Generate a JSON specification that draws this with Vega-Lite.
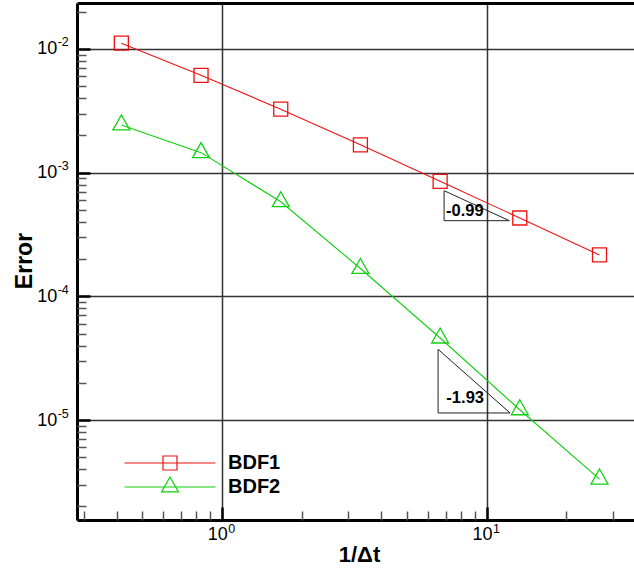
{
  "$schema": "https://vega.github.io/schema/vega-lite/v6.json",
  "width": 557,
  "height": 517,
  "autosize": {"type": "none"},
  "padding": {"left": 77, "top": 3, "right": 0, "bottom": 49},
  "background": "white",
  "config": {
    "view": {"stroke": null},
    "font": "Liberation Sans",
    "axis": {"labelColor": "#000", "titleColor": "#000", "labelFont": "Liberation Sans", "titleFont": "Liberation Sans", "labelFlush": false, "labelOverlap": false},
    "legend": {
      "title": null, "orient": "none", "legendX": 83, "legendY": 450, "padding": 0,
      "symbolSize": 196, "symbolStrokeWidth": 1.2, "symbolOpacity": 1,
      "labelFont": "Liberation Sans", "labelFontSize": 20, "labelFontWeight": "bold", "labelColor": "#000",
      "labelOffset": 48, "rowPadding": 1
    }
  },
  "datasets": {
    "errors": [
      {"invDt": 0.4167, "error": 0.01115, "scheme": "BDF1"},
      {"invDt": 0.8333, "error": 0.00612, "scheme": "BDF1"},
      {"invDt": 1.667, "error": 0.00326, "scheme": "BDF1"},
      {"invDt": 3.333, "error": 0.00168, "scheme": "BDF1"},
      {"invDt": 6.667, "error": 0.000851, "scheme": "BDF1"},
      {"invDt": 13.33, "error": 0.00043, "scheme": "BDF1"},
      {"invDt": 26.67, "error": 0.000216, "scheme": "BDF1"},
      {"invDt": 0.4167, "error": 0.00243, "scheme": "BDF2"},
      {"invDt": 0.8333, "error": 0.001452, "scheme": "BDF2"},
      {"invDt": 1.667, "error": 0.000582, "scheme": "BDF2"},
      {"invDt": 3.333, "error": 0.000168, "scheme": "BDF2"},
      {"invDt": 6.667, "error": 0.000046, "scheme": "BDF2"},
      {"invDt": 13.33, "error": 0.0000121, "scheme": "BDF2"},
      {"invDt": 26.67, "error": 0.00000333, "scheme": "BDF2"}
    ],
    "slopeTriangles": [
      {"tri": "BDF1", "ord": 0, "invDt": 6.9, "error": 0.000715},
      {"tri": "BDF1", "ord": 1, "invDt": 6.9, "error": 0.000409},
      {"tri": "BDF1", "ord": 2, "invDt": 12.17, "error": 0.000409},
      {"tri": "BDF1", "ord": 3, "invDt": 6.9, "error": 0.000715},
      {"tri": "BDF2", "ord": 0, "invDt": 6.55, "error": 0.0000373},
      {"tri": "BDF2", "ord": 1, "invDt": 6.55, "error": 0.0000114},
      {"tri": "BDF2", "ord": 2, "invDt": 12.25, "error": 0.0000114},
      {"tri": "BDF2", "ord": 3, "invDt": 6.55, "error": 0.0000373}
    ],
    "slopeLabels": [
      {"invDt": 8.27, "error": 0.000492, "label": "-0.99"},
      {"invDt": 8.29, "error": 0.00001511, "label": "-1.93"}
    ]
  },
  "layer": [
    {
      "data": {"name": "errors"},
      "mark": {"type": "line", "strokeWidth": 1.1},
      "encoding": {
        "x": {
          "field": "invDt", "type": "quantitative",
          "scale": {"type": "log", "domain": [0.2833, 36.0], "nice": false, "zero": false},
          "axis": {
            "orient": "bottom", "values": [1, 10], "title": "1/Δt",
            "grid": true, "gridColor": "#333", "gridWidth": 1.5,
            "domain": true, "domainColor": "#000", "domainWidth": 3,
            "ticks": true, "tickSize": -13, "tickWidth": 2.5, "tickColor": "#000",
            "labels": true, "labelExpr": "'10'", "labelFontSize": 18,
            "labelBaseline": "top", "labelAlign": "center", "labelPadding": 18.4, "labelOffset": -4.7,
            "titleFontSize": 22, "titleFontWeight": "bold", "titleX": 282, "titleY": 34,
            "titleAlign": "center", "titleBaseline": "middle", "titleAngle": 0
          }
        },
        "y": {
          "field": "error", "type": "quantitative",
          "scale": {"type": "log", "domain": [0.000001554, 0.02354], "nice": false, "zero": false},
          "axis": {
            "orient": "left", "values": [0.00001, 0.0001, 0.001, 0.01], "title": "Error",
            "grid": true, "gridColor": "#333", "gridWidth": 1.5,
            "domain": true, "domainColor": "#000", "domainWidth": 3,
            "ticks": true, "tickSize": -13, "tickWidth": 2.5, "tickColor": "#000",
            "labels": true, "labelExpr": "'10'", "labelFontSize": 18,
            "labelBaseline": "middle", "labelAlign": "right", "labelPadding": 33.3,
            "titleFontSize": 23, "titleFontWeight": "bold", "titleX": -53, "titleY": 257.5,
            "titleAlign": "center", "titleBaseline": "middle", "titleAngle": -90
          }
        },
        "color": {
          "field": "scheme", "type": "nominal",
          "scale": {"domain": ["BDF1", "BDF2"], "range": ["#ee1111", "#10d010"]},
          "legend": null
        }
      }
    },
    {
      "data": {"name": "errors"},
      "mark": {"type": "point", "filled": false, "size": 196, "strokeWidth": 1.3, "opacity": 1},
      "encoding": {
        "x": {
          "field": "invDt", "type": "quantitative",
          "scale": {"type": "log", "domain": [0.2833, 36.0], "nice": false, "zero": false},
          "axis": {
            "orient": "bottom", "values": [0.3, 0.4, 0.5, 0.6, 0.7, 0.8, 0.9, 2, 3, 4, 5, 6, 7, 8, 9, 20, 30],
            "title": null, "grid": false, "domain": false, "labels": false,
            "ticks": true, "tickSize": -9, "tickWidth": 1.5, "tickColor": "#555"
          }
        },
        "y": {
          "field": "error", "type": "quantitative",
          "scale": {"type": "log", "domain": [0.000001554, 0.02354], "nice": false, "zero": false},
          "axis": {
            "orient": "left",
            "values": [0.000002, 0.000003, 0.000004, 0.000005, 0.000006, 0.000007, 0.000008, 0.000009,
                       0.00002, 0.00003, 0.00004, 0.00005, 0.00006, 0.00007, 0.00008, 0.00009,
                       0.0002, 0.0003, 0.0004, 0.0005, 0.0006, 0.0007, 0.0008, 0.0009,
                       0.002, 0.003, 0.004, 0.005, 0.006, 0.007, 0.008, 0.009, 0.02],
            "title": null, "grid": false, "domain": false, "labels": false,
            "ticks": true, "tickSize": -9, "tickWidth": 1.5, "tickColor": "#555"
          }
        },
        "color": {
          "field": "scheme", "type": "nominal",
          "scale": {"domain": ["BDF1", "BDF2"], "range": ["#ee1111", "#10d010"]},
          "legend": null
        },
        "shape": {
          "field": "scheme", "type": "nominal",
          "scale": {"domain": ["BDF1", "BDF2"], "range": ["M-1,-1H1V1H-1Z", "M0,-1.43L1.21,0.71H-1.21Z"]},
          "legend": null
        }
      }
    },
    {
      "data": {"name": "slopeTriangles"},
      "mark": {"type": "line", "color": "#222", "strokeWidth": 1},
      "encoding": {
        "x": {
          "field": "invDt", "type": "quantitative",
          "scale": {"type": "log", "domain": [0.2833, 36.0], "nice": false, "zero": false},
          "axis": {
            "orient": "bottom", "values": [1, 10], "title": null, "grid": false, "domain": false,
            "ticks": false, "tickSize": 0,
            "labelExpr": "'' + round(log(datum.value) / LN10)", "labelFontSize": 12.5,
            "labelAlign": "left", "labelBaseline": "top", "labelPadding": 2.4, "labelOffset": 5.7
          }
        },
        "y": {
          "field": "error", "type": "quantitative",
          "scale": {"type": "log", "domain": [0.000001554, 0.02354], "nice": false, "zero": false},
          "axis": {
            "orient": "left", "values": [0.00001, 0.0001, 0.001, 0.01], "title": null, "grid": false, "domain": false,
            "ticks": false, "tickSize": 0,
            "labelExpr": "'' + round(log(datum.value) / LN10)", "labelFontSize": 12.5,
            "labelAlign": "right", "labelBaseline": "middle", "labelPadding": 8.7, "labelOffset": -7
          }
        },
        "detail": {"field": "tri", "type": "nominal"},
        "order": {"field": "ord", "type": "quantitative"}
      }
    },
    {
      "data": {"name": "slopeLabels"},
      "mark": {"type": "text", "font": "Liberation Sans", "fontSize": 16.5, "fontWeight": "bold", "color": "#000", "align": "center", "baseline": "middle"},
      "encoding": {
        "x": {
          "field": "invDt", "type": "quantitative",
          "scale": {"type": "log", "domain": [0.2833, 36.0], "nice": false, "zero": false},
          "axis": {
            "orient": "top", "title": null, "grid": false, "labels": false, "ticks": false,
            "domain": true, "domainColor": "#000", "domainWidth": 3
          }
        },
        "y": {
          "field": "error", "type": "quantitative",
          "scale": {"type": "log", "domain": [0.000001554, 0.02354], "nice": false, "zero": false},
          "axis": null
        },
        "text": {"field": "label"}
      }
    },
    {
      "data": {"name": "errors"},
      "mark": {"type": "point", "filled": false, "size": 0, "strokeWidth": 1.2, "opacity": 1},
      "encoding": {
        "x": {
          "field": "invDt", "type": "quantitative",
          "scale": {"type": "log", "domain": [0.2833, 36.0], "nice": false, "zero": false},
          "axis": null
        },
        "y": {
          "field": "error", "type": "quantitative",
          "scale": {"type": "log", "domain": [0.000001554, 0.02354], "nice": false, "zero": false},
          "axis": null
        },
        "color": {
          "field": "scheme", "type": "nominal",
          "scale": {"domain": ["BDF1", "BDF2"], "range": ["#ee1111", "#10d010"]}
        },
        "shape": {
          "field": "scheme", "type": "nominal",
          "scale": {"domain": ["BDF1", "BDF2"], "range": ["M-6.5,0H6.5M-1,-1H1V1H-1Z", "M-6.5,0H6.5M0,-1.43L1.21,0.71H-1.21Z"]}
        }
      }
    }
  ],
  "resolve": {
    "axis": {"x": "independent", "y": "independent"},
    "scale": {"shape": "independent"},
    "legend": {"color": "independent", "shape": "independent"}
  }
}
